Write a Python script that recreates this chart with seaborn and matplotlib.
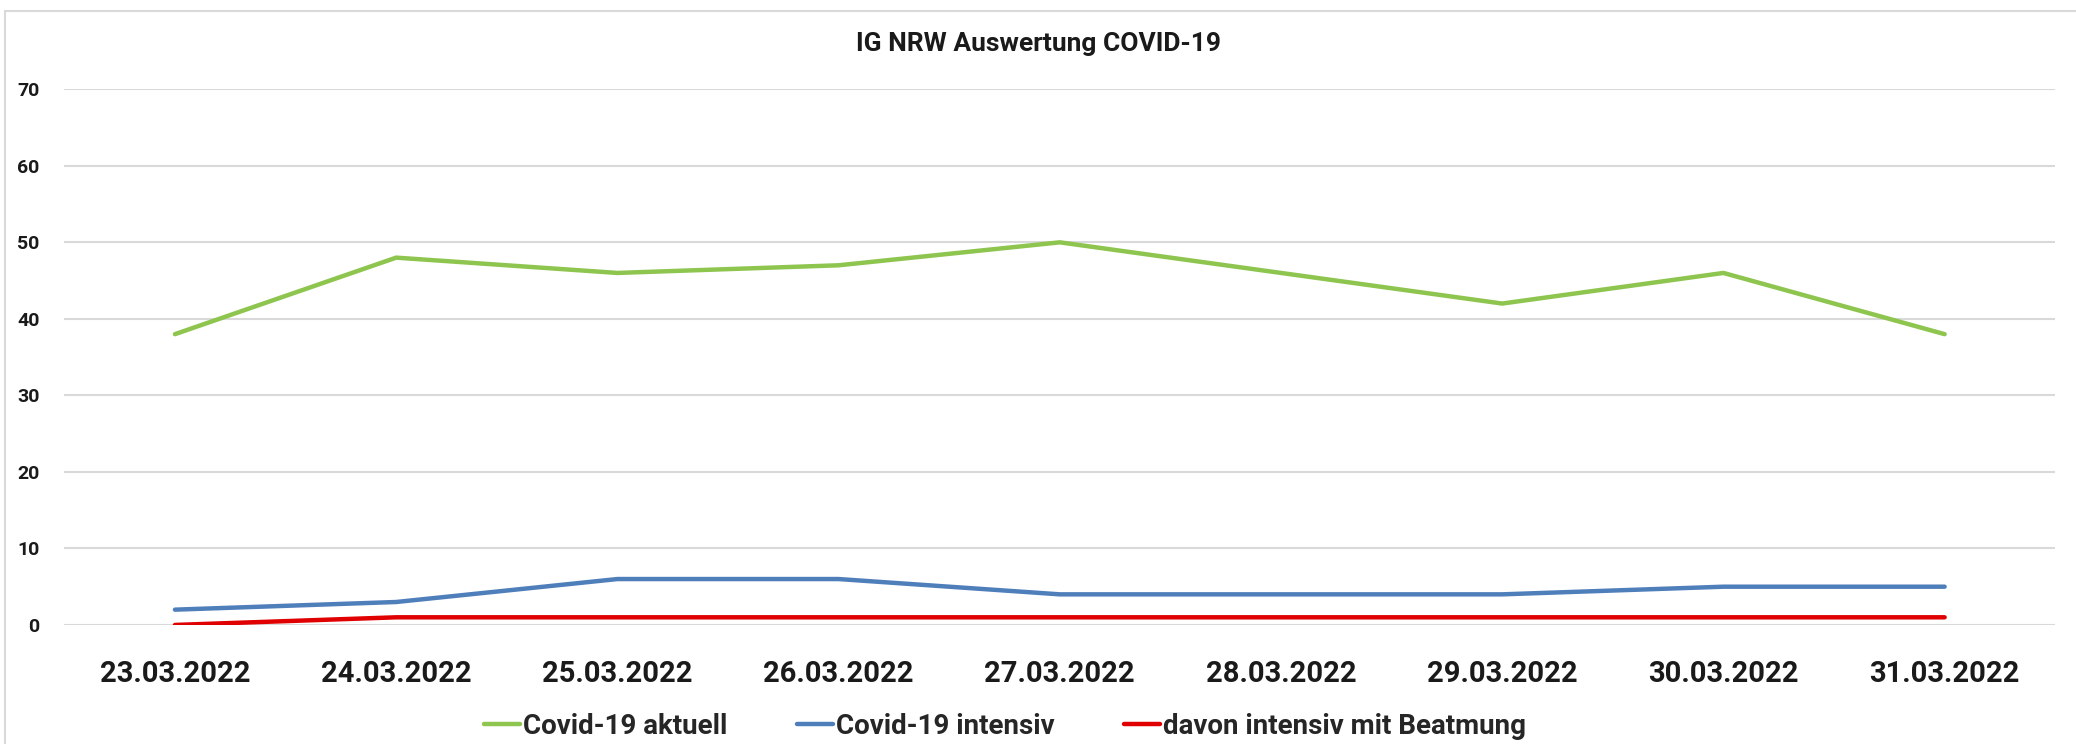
import matplotlib
matplotlib.use('Agg')
import matplotlib.pyplot as plt
import pandas as pd
import seaborn as sns
from matplotlib.patches import Rectangle

# Daten aus dem Diagramm
datum = ['23.03.2022', '24.03.2022', '25.03.2022', '26.03.2022', '27.03.2022',
         '28.03.2022', '29.03.2022', '30.03.2022', '31.03.2022']
covid_aktuell = [38, 48, 46, 47, 50, 46, 42, 46, 38]
covid_intensiv = [2, 3, 6, 6, 4, 4, 4, 5, 5]
intensiv_beatmung = [0, 1, 1, 1, 1, 1, 1, 1, 1]

serien = ['Covid-19 aktuell', 'Covid-19 intensiv', 'davon intensiv mit Beatmung']
farben = ['#8DC54F', '#4F7FBA', '#E00000']
titel = 'IG NRW Auswertung COVID-19'
y_ticks = [0, 10, 20, 30, 40, 50, 60, 70]

df = pd.DataFrame({
    'Datum': datum * 3,
    'Wert': covid_aktuell + covid_intensiv + intensiv_beatmung,
    'Serie': [serien[0]] * 9 + [serien[1]] * 9 + [serien[2]] * 9,
})

sns.set_theme(style='white')
plt.rcParams['font.family'] = ['Roboto', 'DejaVu Sans']

fig = plt.figure(figsize=(20.76, 7.44), dpi=100)
ax = fig.add_axes([0.031, 0.16, 0.959, 0.72])

sns.lineplot(data=df, x='Datum', y='Wert', hue='Serie', palette=farben,
             linewidth=3.2, ax=ax, sort=False, legend=False)

ax.set_xlim(-0.5, len(datum) - 0.5)
ax.set_ylim(0, 70)
ax.set_yticks(y_ticks)
ax.grid(axis='y', color='#d9d9d9', linewidth=1.5)
ax.set_axisbelow(True)
for s in ax.spines.values():
    s.set_visible(False)
ax.set_xlabel('')
ax.set_ylabel('')
ax.tick_params(axis='x', length=0, pad=25, labelsize=21)
ax.tick_params(axis='y', length=0, pad=18, labelsize=14)
for lbl in ax.get_xticklabels() + ax.get_yticklabels():
    lbl.set_fontweight('bold')
    lbl.set_color('#1a1a1a')

fig.text(0.5, 0.941, titel, ha='center', va='center', fontsize=19,
         fontweight='bold', color='#1a1a1a')

handles = [plt.Line2D([], [], color=c, linewidth=3.2) for c in farben]
fig.legend(handles, serien, loc='center', bbox_to_anchor=(0.484, 0.024),
           ncol=3, frameon=False, handlelength=1.3, handletextpad=0.1,
           columnspacing=2.5, prop={'weight': 'bold', 'size': 20})

fig.patches.append(Rectangle((0.0025, -0.02), 1.1, 1.005, transform=fig.transFigure,
                             fill=False, edgecolor='#d9d9d9', linewidth=1.5))

plt.savefig('out.png', dpi=100, facecolor='white')
